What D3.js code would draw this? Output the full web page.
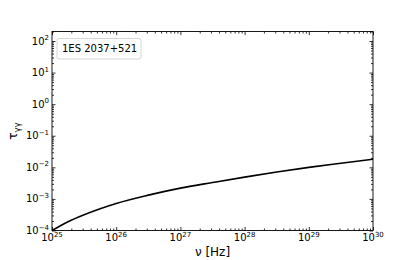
<!DOCTYPE html>
<html>
<head>
<meta charset="utf-8">
<script src="https://cdn.jsdelivr.net/npm/d3@7"></script>
<style>
  html, body { margin: 0; padding: 0; background: #fff; }
  svg { display: block; font-family: "DejaVu Sans", sans-serif; }
</style>
</head>
<body>
<svg id="chart" width="415" height="260"></svg>
<script>
// ---- data ----
const nuExp = [25, 25.25, 25.5, 25.75, 26, 26.5, 27, 27.5, 28, 28.5, 29, 29.5, 30];
const tau = [1.0e-4, 1.9e-4, 3.16e-4, 4.9e-4, 7.2e-4, 1.32e-3, 2.2e-3, 3.3e-3, 4.9e-3, 7.1e-3, 1.0e-2, 1.35e-2, 1.8e-2];
const xTickExps = [25, 26, 27, 28, 29, 30];
const yTickExps = [-4, -3, -2, -1, 0, 1, 2];
const legendLabel = "1ES 2037+521";
const xLabel = "ν [Hz]";

// ---- layout ----
const L = 52, R = 373, T = 31.5, B = 230.5;
const svg = d3.select("#chart");

const x = d3.scaleLog().domain([1e25, 1e30]).range([L, R]);
const y = d3.scaleLog().domain([1e-4, 2e2]).range([B, T]);

const xMajor = xTickExps.map(e => Math.pow(10, e));
const yMajor = yTickExps.map(e => Math.pow(10, e));
const xMinor = [];
for (let e = 25; e < 30; e++) for (let k = 2; k <= 9; k++) xMinor.push(k * Math.pow(10, e));
const yMinor = [];
for (let e = -4; e <= 2; e++) for (let k = 2; k <= 9; k++) { const v = k * Math.pow(10, e); if (v <= 2e2) yMinor.push(v); }

function addAxis(axisFn, scale, vals, size, transform) {
  const g = svg.append("g").attr("transform", transform)
    .call(axisFn(scale).tickValues(vals).tickSize(size).tickFormat(""));
  g.select(".domain").remove();
  g.selectAll(".tick line").attr("stroke", "#000").attr("stroke-width", 0.8);
  return g;
}
// inward ticks on all four sides
addAxis(d3.axisBottom, x, xMajor, -3.5, `translate(0,${B})`);
addAxis(d3.axisBottom, x, xMinor, -2, `translate(0,${B})`);
addAxis(d3.axisTop, x, xMajor, -3.5, `translate(0,${T})`);
addAxis(d3.axisTop, x, xMinor, -2, `translate(0,${T})`);
addAxis(d3.axisLeft, y, yMajor, -3.5, `translate(${L},0)`);
addAxis(d3.axisLeft, y, yMinor, -2, `translate(${L},0)`);
addAxis(d3.axisRight, y, yMajor, -3.5, `translate(${R},0)`);
addAxis(d3.axisRight, y, yMinor, -2, `translate(${R},0)`);

// frame
svg.append("rect").attr("x", L).attr("y", T).attr("width", R - L).attr("height", B - T)
  .attr("fill", "none").attr("stroke", "#000").attr("stroke-width", 0.9);

// curve
const line = d3.line().x((d, i) => x(Math.pow(10, nuExp[i]))).y(d => y(d)).curve(d3.curveMonotoneX);
svg.append("path").datum(tau).attr("d", line)
  .attr("fill", "none").attr("stroke", "#000").attr("stroke-width", 1.6);

// x tick labels
xTickExps.forEach(e => {
  const t = svg.append("text").attr("x", x(Math.pow(10, e))).attr("y", B + 10.5)
    .attr("text-anchor", "middle").attr("font-size", 10);
  t.append("tspan").text("10");
  t.append("tspan").attr("dy", -4.5).attr("font-size", 7).text(String(e));
});
// y tick labels
yTickExps.forEach(e => {
  const t = svg.append("text").attr("x", L - 3).attr("y", y(Math.pow(10, e)) + 3.5)
    .attr("text-anchor", "end").attr("font-size", 10);
  t.append("tspan").text("10");
  t.append("tspan").attr("dy", -4.5).attr("font-size", 7).text(String(e).replace("-", "\u2212"));
});

// axis labels
svg.append("text").attr("x", (L + R) / 2).attr("y", 256).attr("text-anchor", "middle")
  .attr("font-size", 12).text(xLabel);
const yl = svg.append("text").attr("transform", `translate(17,${(T + B) / 2}) rotate(-90)`)
  .attr("text-anchor", "middle").attr("font-size", 12);
yl.append("tspan").text("τ");
yl.append("tspan").attr("dy", 3).attr("font-size", 8.5).text("γγ");

// legend
svg.append("rect").attr("x", 57).attr("y", 38.5).attr("width", 84).attr("height", 20.5).attr("rx", 2)
  .attr("fill", "#fff").attr("stroke", "#cccccc").attr("stroke-width", 0.8);
svg.append("text").attr("x", 62).attr("y", 52).attr("font-size", 10).text(legendLabel);
</script>
</body>
</html>
